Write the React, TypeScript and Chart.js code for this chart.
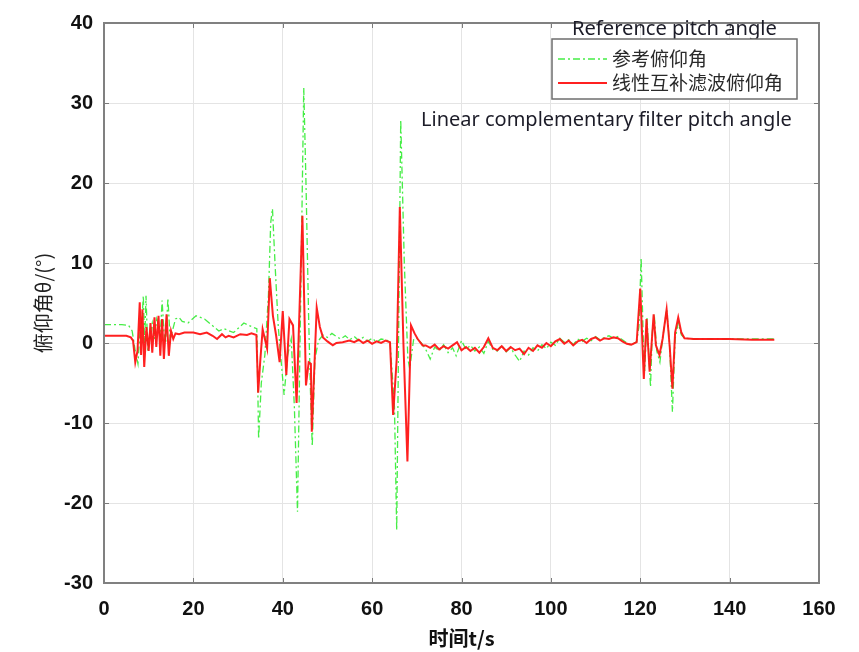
import React, { useEffect, useRef } from "react";
import { Chart, registerables } from "chart.js";

Chart.register(...registerables);

// ---------- data ----------
const seriesLabels = ["参考俯仰角", "线性互补滤波俯仰角"];
const xTicks = [0, 20, 40, 60, 80, 100, 120, 140, 160];
const yTicks = [-30, -20, -10, 0, 10, 20, 30, 40];

const refTime = [
  0, 2, 4, 5.5, 6.3, 7.0, 7.6, 8.0, 8.5, 8.8, 9.1, 9.4, 9.8, 10.3, 10.8, 11.3, 11.8, 12.3, 12.6, 13.0,
  13.4, 13.8, 14.3, 14.8, 15.3, 16.0, 16.8, 17.5, 18.8, 20.6, 22.5, 24.0, 25.7, 26.8, 29.0, 31.3, 33.2, 34.2,
  34.6, 35.2, 36.0, 36.8, 37.3, 37.7, 38.3, 39.0, 39.6, 40.3, 41.1, 41.9, 42.6, 43.3, 44.0, 44.7, 45.2, 45.8,
  46.2, 46.6, 47.2, 48.0, 49, 50, 51, 52, 53, 54, 55, 56, 57, 58, 59, 60, 61, 62, 63, 64, 65.0, 65.5, 66.0,
  66.4, 67.2, 68.0, 68.4, 69.3, 70, 71, 72, 73, 74, 75, 76, 77, 78, 78.8, 80, 81, 82, 83, 84, 85, 86, 87, 88,
  89, 90, 91, 92, 93, 94, 95, 96, 97, 98, 99, 100, 101, 102, 103, 104, 105, 106, 107, 108, 109, 110, 111, 112,
  113, 114, 115, 116, 117, 118, 119.2, 119.7, 120.2, 120.7, 121.0, 121.5, 122.3, 122.7, 123.2, 123.7, 124.4,
  125.0, 125.9, 126.5, 127.2, 127.8, 128.5, 129.2, 130, 132, 135, 140, 145, 150,
];
const refPitch = [
  2.3, 2.3, 2.3, 2.2, 1.5, -1.0, -2.6, 1.0, 3.0, 5.9, 0.0, 5.9, -1.0, 1.0, 2.5, 0.5, 3.0, 2.0, 0.8, 5.3,
  1.5, 0.0, 5.6, 0.5, 1.5, 3.0, 3.2, 2.7, 2.5, 3.4, 3.0, 2.3, 1.5, 1.8, 1.3, 2.5, 2.0, 1.8,
  -12.0, -5.0, -1.5, 6.0, 15.0, 16.8, 9.6, 2.0, -2.0, -6.5, -1.5, 0.5, -8.0, -21.1, 5.0, 31.9, 20.0, 3.0,
  -6.0, -12.9, -2.0, 0.3, 1.0, 0.7, 1.2, 0.8, 0.5, 0.9, 0.4, 0.8, 0.3, 0.7, 0.2, 0.6, 0.1, 0.5, 0.4, 0.2, -8.0, -23.4, 5.0,
  27.9, 10.0, -2.0, -3.2, 0.5, 0.6, 0.0, -0.8, -2.0, -0.5, -1.0, -0.2, -1.2, -0.6, -1.6, 0.3, -0.8, -0.3, -1.0, -0.5, -1.3, 0.2, -0.8, -1.0,
  -0.3, -1.1, -0.6, -1.5, -2.3, -1.0, -1.5, -0.6, -1.0, -0.2, -0.7, 0.1, -0.3, 0.6, 0.1, 0.4, -0.2, 0.5, 0.2, 0.6, 0.3, 0.8, 0.4, 0.7,
  0.9, 0.6, 0.8, 0.4, 0.0, -0.3, 0.2, 2.0, 10.6, 0.0, -3.5, 3.2, -5.5, 1.5, 3.0, -1.0, -2.4,
  0.5, 4.2, 0.5, -8.6, 0.5, 2.5, 1.0, 0.6, 0.5, 0.5, 0.5, 0.5, 0.5,
];

const lcfTime = [
  0, 3, 5, 6.0, 6.5, 7.0, 7.5, 8.0, 8.3, 8.6, 9.0, 9.5, 10.0, 10.4, 10.8, 11.3, 11.7, 12.2, 12.6, 13.0, 13.4,
  14.0, 14.5, 15.0, 15.5, 16.0, 16.8, 18, 20, 21.5, 23, 24.3, 25.3, 26.4, 27.2, 27.9, 29, 30.5, 32, 33, 34.1,
  34.5, 35.0, 35.5, 36.0, 36.5, 37.1, 37.8, 38.5, 39.3, 40.0, 40.8, 41.5, 42.3, 43.1, 44.4, 45.2, 45.8, 46.3,
  46.5, 47.6, 48.3, 49.0, 50, 51.2, 52, 53.4, 54.9, 56, 57, 58, 59, 60, 61, 62, 63, 64.0, 64.7, 65.5, 66.2,
  67.0, 67.9, 68.7, 69.5, 70.2, 71.3, 72, 73, 74, 75, 76, 77, 78, 79, 80, 81, 82, 83, 84, 85, 86, 87, 88, 89,
  90, 91, 92, 93, 94, 95, 96, 97, 98, 99, 100, 101, 102, 103, 104, 105, 106, 107, 108, 109, 110, 111, 112,
  113, 114, 115, 116, 117, 118, 119.2, 120.0, 120.8, 121.4, 122.1, 123.0, 123.5, 124.3, 125.0, 125.9, 126.6,
  127.2, 127.8, 128.5, 129.2, 129.9, 132, 135, 140, 145, 150,
];
const lcfPitch = [
  0.9, 0.9, 0.9, 0.7, 0.3, -2.4, -1.0, 5.1, -1.5, 4.2, -3.0, 2.0, -1.0, 2.5, -1.2, 3.2, -0.5, 3.4, -1.6, 3.0, -2.0,
  3.6, -1.6, 1.5, 0.5, 1.2, 1.1, 1.3, 1.3, 1.1, 1.3, 0.9, 0.5, 1.1, 0.7, 0.9, 0.7, 1.1, 1.0, 1.2, 1.0,
  -6.2, -2.0, 1.7, 0.5, -0.7, 8.1, 3.4, 1.0, -2.4, 4.0, -4.0, 3.0, 2.2, -7.5, 15.9, -5.3, -2.4, -2.6,
  -11.1, 4.4, 2.0, 0.7, 0.2, -0.3, 0.0, 0.1, 0.3, 0.1, 0.4, 0.0, 0.3, -0.1, 0.2, 0.0, 0.3, 0.1, -9.0, -2.0, 17.0,
  0.0, -14.8, 2.2, 1.2, 0.5, -0.3, -0.3, -0.6, -0.2, -0.8, -0.4, -0.7, -0.3, 0.1, -0.9, -0.5, -1.0, -0.6, -1.2, -0.5, 0.6, -0.6, -0.9, -0.4,
  -1.0, -0.5, -0.9, -0.7, -1.4, -0.6, -1.0, -0.3, -0.6, 0.0, -0.4, 0.2, 0.5, -0.1, 0.3, -0.3, 0.2, 0.4, 0.0, 0.5, 0.7, 0.3, 0.6,
  0.5, 0.7, 0.6, 0.2, -0.1, -0.2, 0.1, 6.8, -4.5, 3.0, -3.6, 3.6, -0.3, -1.5, 0.5, 4.2, -0.5,
  -5.7, 1.3, 3.2, 1.3, 0.6, 0.5, 0.5, 0.5, 0.4, 0.4,
];

// ---------- plugin: MATLAB-like box, inward ticks, legend, annotations ----------
const decorPlugin = {
  id: "decor",
  afterDatasetsDraw(chart: any) {
    const { ctx, chartArea: a, scales } = chart;
    ctx.save();
    ctx.strokeStyle = "#7a7a7a";
    ctx.lineWidth = 1;
    const tl = 5;
    ctx.beginPath();
    for (const v of xTicks) {
      const px = Math.round(scales.x.getPixelForValue(v)) + 0.5;
      ctx.moveTo(px, a.bottom);
      ctx.lineTo(px, a.bottom - tl);
      ctx.moveTo(px, a.top);
      ctx.lineTo(px, a.top + tl);
    }
    for (const v of yTicks) {
      const py = Math.round(scales.y.getPixelForValue(v)) + 0.5;
      ctx.moveTo(a.left, py);
      ctx.lineTo(a.left + tl, py);
      ctx.moveTo(a.right, py);
      ctx.lineTo(a.right - tl, py);
    }
    ctx.stroke();
    ctx.strokeStyle = "#808080";
    ctx.lineWidth = 2;
    ctx.strokeRect(a.left, a.top, a.right - a.left, a.bottom - a.top);
    ctx.restore();
  },
  afterDraw(chart: any) {
    const { ctx } = chart;
    ctx.save();
    // annotation texts
    const fitText = (text: string, x1: number, x2: number, yc: number, color: string) => {
      ctx.font = `20px "Noto Sans", "Open Sans", sans-serif`;
      const w = ctx.measureText(text).width;
      const size = (20 * (x2 - x1)) / w;
      ctx.font = `${size}px "Noto Sans", "Open Sans", sans-serif`;
      ctx.fillStyle = color;
      ctx.textAlign = "left";
      ctx.textBaseline = "middle";
      ctx.fillText(text, x1, yc);
    };
    fitText("Reference pitch angle", 572, 777, 29, "#1c1c28");
    fitText("Linear complementary filter pitch angle", 421, 792, 120, "#1c1c28");

    // legend box
    const bx = 552, by = 39, bw = 245, bh = 60;
    ctx.fillStyle = "#ffffff";
    ctx.fillRect(bx, by, bw, bh);
    ctx.strokeStyle = "#6e6e6e";
    ctx.lineWidth = 1.5;
    ctx.strokeRect(bx, by, bw, bh);
    const rows = [59, 83];
    chart.data.datasets.forEach((ds: any, i: number) => {
      const y = rows[i];
      ctx.beginPath();
      ctx.strokeStyle = ds.borderColor;
      ctx.lineWidth = ds.borderWidth;
      ctx.setLineDash(ds.borderDash || []);
      ctx.moveTo(558, y);
      ctx.lineTo(607, y);
      ctx.stroke();
      ctx.setLineDash([]);
      ctx.fillStyle = "#2a2a2a";
      ctx.font = `19px "Noto Sans CJK SC", sans-serif`;
      ctx.textAlign = "left";
      ctx.textBaseline = "middle";
      ctx.fillText(ds.label, 612, y);
    });
    ctx.restore();
  },
};

const tickFont = {
  family: '"Liberation Sans", Arial, sans-serif',
  size: 20,
  weight: "bold" as const,
};

export default function App() {
  const ref = useRef<HTMLCanvasElement | null>(null);

  useEffect(() => {
    if (!ref.current) return;
    const chart = new Chart(ref.current, {
      type: "line",
      data: {
        datasets: [
          {
            label: seriesLabels[0],
            data: refTime.map((t, i) => ({ x: t, y: refPitch[i] })),
            borderColor: "rgba(50,235,50,0.9)",
            borderWidth: 1.3,
            borderDash: [7, 3, 2, 3],
            pointRadius: 0,
            tension: 0,
            order: 2,
          },
          {
            label: seriesLabels[1],
            data: lcfTime.map((t, i) => ({ x: t, y: lcfPitch[i] })),
            borderColor: "rgba(255,20,20,0.95)",
            borderWidth: 2,
            pointRadius: 0,
            tension: 0,
            order: 1,
          },
        ],
      },
      options: {
        animation: false,
        responsive: false,
        maintainAspectRatio: false,
        layout: { padding: { top: 17.5, right: 40, left: 0, bottom: 0 } },
        plugins: { legend: { display: false }, tooltip: { enabled: false } },
        scales: {
          x: {
            type: "linear",
            min: 0,
            max: 160,
            afterBuildTicks: (s: any) => {
              s.ticks = xTicks.map((v) => ({ value: v }));
            },
            afterFit: (s: any) => {
              s.height = 69;
            },
            ticks: { font: tickFont, color: "#111", padding: 14, maxRotation: 0, autoSkip: false },
            grid: { color: "#e4e4e4", lineWidth: 1, drawTicks: false },
            border: { display: false },
            title: {
              display: true,
              text: "时间t/s",
              color: "#111",
              font: { family: '"Noto Sans CJK SC", sans-serif', size: 20, weight: "bold" },
              padding: { top: 0, bottom: 2 },
            },
          },
          y: {
            type: "linear",
            min: -30,
            max: 40,
            afterBuildTicks: (s: any) => {
              s.ticks = yTicks.map((v) => ({ value: v }));
            },
            afterFit: (s: any) => {
              s.width = 104;
            },
            ticks: { font: tickFont, color: "#111", padding: 11, autoSkip: false },
            grid: { color: "#e4e4e4", lineWidth: 1, drawTicks: false },
            border: { display: false },
            title: {
              display: true,
              text: "俯仰角θ/(°)",
              color: "#222",
              font: { family: '"Noto Sans CJK SC", sans-serif', size: 20, weight: "normal" },
              padding: { top: 31, bottom: 0 },
            },
          },
        },
      },
      plugins: [decorPlugin],
    });
    return () => chart.destroy();
  }, []);

  return (
    <div style={{ position: "absolute", left: 0, top: 0, width: 859, height: 652, background: "#fff" }}>
      <canvas ref={ref} width={859} height={652} />
    </div>
  );
}
